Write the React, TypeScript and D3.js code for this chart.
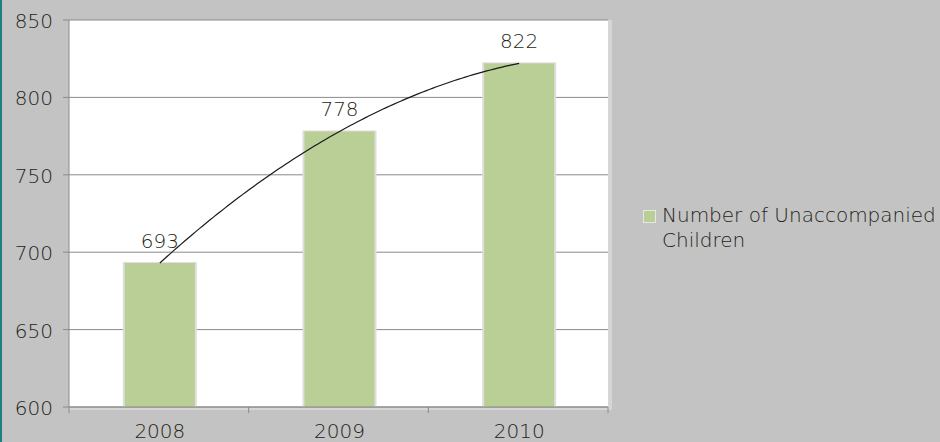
import React from "react";
import * as d3 from "d3";

const categories = ["2008", "2009", "2010"];
const values = [693, 778, 822];
const yTicks = [600, 650, 700, 750, 800, 850];
const seriesName = ["Number of Unaccompanied", "Children"];

const W = 940, H = 442;
const plot = { left: 69, right: 608, top: 20, bottom: 407 };
const FONT = "'DejaVu Sans', Verdana, sans-serif";
const TEXT = "#231f18";

export default function App() {
  const x = d3.scaleBand<string>().domain(categories).range([plot.left, plot.right]).paddingInner(0).paddingOuter(0);
  const y = d3.scaleLinear().domain([600, 850]).range([plot.bottom, plot.top]);
  const barW = x.bandwidth() * 0.39;
  const cx = (c: string) => (x(c) as number) + x.bandwidth() / 2 + 1;

  // quadratic trendline through the three points (polynomial order 2)
  const c2 = (values[2] - 2 * values[1] + values[0]) / 2;
  const c1 = values[1] - values[0] - c2;
  const c0 = values[0];
  const xs = d3.scaleLinear().domain([0, 2]).range([cx(categories[0]), cx(categories[2])]);
  const pts: [number, number][] = d3.range(0, 2.0001, 0.02).map((t) => [xs(t), y(c0 + c1 * t + c2 * t * t)]);
  const line = d3.line()(pts) as string;

  const bandTicks = [...categories.map((c) => x(c) as number), plot.right];

  return (
    <svg width={W} height={H} style={{ position: "absolute", left: 0, top: 0 }} fontFamily={FONT} fontWeight={200}>
      <rect x={0} y={0} width={W} height={H} fill="#c3c3c3" />
      <rect x={0} y={0} width={2} height={H} fill="#1f7f80" />
      {/* plot area with light shadow */}
      <rect x={plot.left} y={plot.top} width={plot.right - plot.left + 4} height={plot.bottom - plot.top + 3} fill="#d6d6d6" />
      <rect x={plot.left} y={plot.top} width={plot.right - plot.left} height={plot.bottom - plot.top} fill="#ffffff" />
      {/* gridlines */}
      {yTicks.map((t) => (
        <line key={t} x1={plot.left - 6} x2={plot.right} y1={y(t)} y2={y(t)} stroke="#8a8a8a" strokeWidth={1} />
      ))}
      {/* bars */}
      {categories.map((c, i) => (
        <g key={c}>
          <rect x={cx(c) - barW / 2 - 2} y={y(values[i]) - 1} width={barW + 4} height={plot.bottom - y(values[i]) + 1} fill="#dedede" />
          <rect x={cx(c) - barW / 2} y={y(values[i])} width={barW} height={plot.bottom - y(values[i])} fill="#b9cf96" />
          <text x={cx(c)} y={y(values[i]) - 15} textAnchor="middle" fontSize={20} fill={TEXT}>{values[i]}</text>
        </g>
      ))}
      {/* axes */}
      <line x1={plot.left} x2={plot.left} y1={plot.top} y2={plot.bottom} stroke="#8a8a8a" />
      <line x1={plot.left} x2={plot.right} y1={plot.bottom} y2={plot.bottom} stroke="#8a8a8a" />
      {bandTicks.map((t, i) => (
        <line key={i} x1={t} x2={t} y1={plot.bottom} y2={plot.bottom + 6} stroke="#8a8a8a" />
      ))}
      {yTicks.map((t) => (
        <text key={t} x={53} y={y(t) + 8} textAnchor="end" fontSize={20} fill={TEXT}>{t}</text>
      ))}
      {categories.map((c) => (
        <text key={c} x={cx(c)} y={438} textAnchor="middle" fontSize={20} fill={TEXT}>{c}</text>
      ))}
      {/* trendline */}
      <path d={line} fill="none" stroke="#1a1a1a" strokeWidth={1.2} />
      {/* legend */}
      <rect x={643.5} y={210.5} width={12} height={12} fill="#b9cf96" stroke="#e6e6e6" strokeWidth={1} />
      <text x={662} y={222} fontSize={20} fill={TEXT}>{seriesName[0]}</text>
      <text x={662} y={247} fontSize={20} fill={TEXT}>{seriesName[1]}</text>
    </svg>
  );
}
